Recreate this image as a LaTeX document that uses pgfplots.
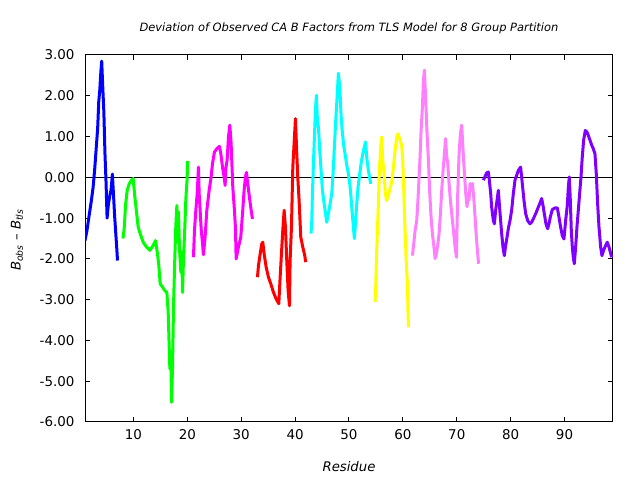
\documentclass[border=0pt]{standalone}
\usepackage{pgfplots}
\pgfplotsset{compat=1.18}
\usepackage{fontspec}
\setmainfont{DejaVu Sans}
\definecolor{cblue}{HTML}{0000FF}
\definecolor{cgreen}{HTML}{00FF00}
\definecolor{cmag}{HTML}{FF00FF}
\definecolor{cred}{HTML}{FF0000}
\definecolor{ccyan}{HTML}{00FFFF}
\definecolor{cyel}{HTML}{FFFF00}
\definecolor{cpink}{HTML}{FF80FF}
\definecolor{cpurp}{HTML}{8000FF}
\begin{document}
\begin{tikzpicture}
\useasboundingbox (0,0) rectangle (640bp,480bp);
\begin{axis}[
  at={(85bp,58bp)}, anchor=south west,
  scale only axis, width=528bp, height=367bp,
  xmin=1, xmax=99, ymin=-6, ymax=3,
  xtick={10,20,30,40,50,60,70,80,90},
  xticklabels={10,20,30,40,50,60,70,80,90},
  ytick={-6,-5,-4,-3,-2,-1,0,1,2,3},
  yticklabels={-6.00,-5.00,-4.00,-3.00,-2.00,-1.00,0.00,1.00,2.00,3.00},
  tick align=inside,
  major tick length=5bp,
  minor tick num=0,
  axis line style={line width=1bp},
  every tick/.style={black, line width=1bp},
  tick label style={font=\fontsize{13.5}{15}\selectfont},
  xticklabel style={yshift=-4bp},
  yticklabel style={xshift=-7bp},
  clip=true,
]
\addplot[black, line width=0.8bp] coordinates {(1,0) (99,0)};
% group 1 blue
\addplot[cblue, line width=3bp, line join=round] coordinates {
(1.0,-1.55) (1.35,-1.32) (1.75,-0.95) (2.15,-0.6) (2.5,-0.25) (2.8,0.2) (3.1,0.75) (3.35,1.2) (3.55,1.85) (3.75,2.15) (3.95,2.6) (4.1,2.85) (4.3,2.2) (4.5,1.6) (4.7,0.6) (4.9,-0.1) (5.1,-1.0) (5.35,-0.65) (5.6,-0.45) (5.85,-0.3) (6.08,0.08) (6.3,-0.45) (6.5,-0.95) (6.7,-1.35) (6.9,-1.75) (7.03,-2.04)
};
% group 2 green
\addplot[cgreen, line width=3bp, line join=round] coordinates {
(8.05,-1.5) (8.27,-1.26) (8.52,-0.69) (8.83,-0.32) (9.2,-0.16) (9.64,-0.07) (9.94,-0.03) (10.25,-0.48) (10.56,-0.85) (10.87,-1.22) (11.24,-1.38) (11.8,-1.59) (12.42,-1.71) (13.04,-1.79) (13.66,-1.67) (14.09,-1.55) (14.46,-1.88) (14.7,-2.16) (14.95,-2.61) (15.38,-2.69) (15.82,-2.78) (16.19,-2.82) (16.44,-3.31) (16.62,-4.13) (16.75,-4.7) (16.93,-4.29) (17.06,-5.52) (17.24,-4.7) (17.43,-3.15) (17.68,-1.92) (17.86,-1.18) (18.05,-0.69) (18.23,-1.59) (18.36,-0.85) (18.54,-1.75) (18.79,-2.33) (18.97,-1.83) (19.1,-2.82) (19.28,-2.0) (19.53,-1.22) (19.72,-0.52) (19.96,-0.03) (20.04,0.4)
};
% group 3 magenta
\addplot[cmag, line width=3bp, line join=round] coordinates {
(21.13,-1.96) (21.32,-1.3) (21.57,-0.81) (21.82,-0.4) (22.06,0.25) (22.19,-0.4) (22.37,-0.81) (22.56,-1.26) (22.8,-1.6) (22.98,-1.9) (23.29,-1.47) (23.61,-0.81) (24.04,-0.32) (24.41,0.01) (24.66,0.34) (25.03,0.62) (25.46,0.7) (25.96,0.76) (26.21,0.58) (26.52,0.25) (26.83,0.01) (27.01,-0.2) (27.13,0.21) (27.38,0.42) (27.63,0.99) (27.88,1.28) (28.12,0.83) (28.43,-0.24) (28.74,-0.81) (28.93,-1.26) (29.05,-2.0) (29.48,-1.71) (29.91,-1.47) (30.28,-0.81) (30.53,-0.32) (30.78,0.01) (30.96,0.12) (31.21,-0.16) (31.52,-0.49) (31.77,-0.74) (32.08,-1.02)
};
% group 4 red
\addplot[cred, line width=3bp, line join=round] coordinates {
(33.01,-2.45) (33.2,-2.16) (33.51,-1.88) (33.81,-1.63) (34.0,-1.59) (34.25,-1.88) (34.62,-2.2) (35.05,-2.45) (35.48,-2.61) (35.98,-2.82) (36.47,-2.98) (36.97,-3.1) (37.22,-2.45) (37.46,-1.88) (37.71,-1.3) (37.96,-0.81) (38.2,-1.22) (38.45,-2.04) (38.7,-2.78) (38.95,-3.15) (39.07,-2.04) (39.32,-1.22) (39.57,0.25) (39.81,0.83) (40.06,1.44) (40.31,0.58) (40.49,0.01) (40.74,-0.57) (41.05,-1.47) (41.42,-1.71) (41.73,-1.88) (41.98,-2.08)
};
% group 5 cyan
\addplot[ccyan, line width=3bp, line join=round] coordinates {
(42.96,-1.38) (43.09,-1.06) (43.21,-0.4) (43.4,0.34) (43.58,0.99) (43.77,1.65) (43.95,2.01) (44.14,1.4) (44.32,1.24) (44.57,0.66) (44.82,0.17) (45.07,-0.32) (45.31,-0.57) (45.56,-0.81) (45.87,-1.1) (46.18,-0.89) (46.49,-0.65) (46.8,-0.4) (47.04,0.09) (47.29,0.75) (47.54,1.4) (47.79,1.97) (48.03,2.55) (48.3,2.2) (48.5,1.6) (48.7,1.2) (49.0,0.8) (49.3,0.55) (49.64,0.25) (49.89,0.09) (50.14,-0.16) (50.32,-0.4) (50.51,-0.73) (50.76,-1.14) (51.0,-1.5) (51.19,-1.14) (51.44,-0.65) (51.68,-0.24) (52.0,0.09) (52.24,0.34) (52.56,0.58) (52.86,0.75) (53.05,0.87) (53.35,0.42) (53.6,0.17) (53.91,-0.07) (54.03,-0.16)
};
% group 6 yellow
\addplot[cyel, line width=3bp, line join=round] coordinates {
(54.84,-3.06) (54.96,-2.7) (55.08,-2.04) (55.27,-1.3) (55.46,-0.65) (55.64,0.17) (55.89,0.75) (56.07,0.99) (56.26,0.42) (56.51,0.09) (56.75,-0.4) (57.0,-0.57) (57.31,-0.44) (57.62,-0.28) (57.93,-0.11) (58.24,0.25) (58.55,0.66) (58.86,0.99) (59.1,1.07) (59.48,0.91) (59.78,0.79) (59.97,0.42) (60.15,-0.24) (60.34,-1.06) (60.59,-1.96) (60.84,-2.61) (60.96,-3.35) (61.05,-3.68)
};
% group 7 pink
\addplot[cpink, line width=3bp, line join=round] coordinates {
(61.77,-1.92) (62.02,-1.63) (62.27,-1.3) (62.57,-1.06) (62.76,-0.65) (63.01,0.01) (63.19,0.5) (63.38,1.15) (63.63,1.73) (63.81,2.38) (64.0,2.63) (64.24,1.89) (64.49,1.07) (64.74,0.42) (64.99,-0.39) (65.23,-0.97) (65.48,-1.38) (65.73,-1.66) (65.98,-1.99) (66.22,-1.88) (66.47,-1.66) (66.72,-1.38) (66.97,-0.89) (67.21,-0.32) (67.46,0.17) (67.71,0.58) (67.92,0.95) (68.14,0.5) (68.33,0.34) (68.57,-0.15) (68.82,-0.56) (69.07,-0.89) (69.38,-1.3) (69.69,-1.71) (69.95,-1.96) (70.05,-1.22) (70.18,-0.4) (70.43,0.58) (70.68,1.07) (70.92,1.28) (71.17,0.66) (71.42,0.1) (71.67,-0.4) (71.91,-0.72) (72.1,-0.4) (72.28,-0.56) (72.47,-0.15) (72.65,-0.32) (72.9,-0.15) (73.15,-0.48) (73.4,-0.97) (73.64,-1.47) (73.89,-1.88) (74.05,-2.12)
};
% group 8 purple
\addplot[cpurp, line width=3bp, line join=round] coordinates {
(74.94,-0.07) (75.25,0.02) (75.55,0.11) (75.86,0.13) (76.05,-0.07) (76.3,-0.4) (76.48,-0.73) (76.79,-1.06) (76.98,-1.14) (77.22,-0.81) (77.47,-0.57) (77.72,-0.32) (77.9,-0.65) (78.09,-0.97) (78.34,-1.38) (78.58,-1.71) (78.83,-1.92) (79.08,-1.67) (79.33,-1.47) (79.57,-1.26) (79.88,-1.06) (80.19,-0.81) (80.5,-0.4) (80.81,-0.07) (81.12,0.05) (81.43,0.17) (81.86,0.25) (82.17,-0.16) (82.48,-0.57) (82.79,-0.89) (83.16,-1.06) (83.59,-1.14) (83.9,-1.1) (84.21,-1.02) (84.65,-0.89) (85.14,-0.73) (85.51,-0.61) (85.76,-0.52) (86.01,-0.69) (86.25,-0.89) (86.56,-1.14) (86.87,-1.26) (87.12,-1.14) (87.37,-0.97) (87.74,-0.79) (88.23,-0.75) (88.67,-0.75) (88.97,-0.97) (89.28,-1.22) (89.59,-1.43) (89.9,-1.51) (90.21,-1.06) (90.52,-0.69) (90.71,-0.24) (90.89,0.01) (91.08,-0.57) (91.26,-1.3) (91.45,-1.71) (91.63,-1.96) (91.82,-2.12) (92.07,-1.71) (92.31,-1.22) (92.56,-0.81) (92.81,-0.4) (93.06,0.01) (93.3,0.5) (93.55,0.91) (93.86,1.15) (94.17,1.11) (94.42,1.03) (94.73,0.91) (95.04,0.79) (95.35,0.7) (95.65,0.58) (95.9,0.09) (96.15,-0.65) (96.4,-1.22) (96.71,-1.71) (96.95,-1.92) (97.26,-1.79) (97.63,-1.67) (97.94,-1.59) (98.25,-1.71) (98.5,-1.83) (98.75,-1.96)
};
\end{axis}
\node[font=\itshape\fontsize{11.5}{13}\selectfont] at (349bp,452bp) {Deviation of Observed CA B Factors from TLS Model for 8 Group Partition};
\node[font=\itshape\fontsize{13.3}{15}\selectfont] at (349bp,13bp) {Residue};
\node[font=\itshape\fontsize{13.3}{15}\selectfont, rotate=90] at (17bp,240bp) {B\textsubscript{obs} -- B\textsubscript{tls}};
\end{tikzpicture}
\end{document}
